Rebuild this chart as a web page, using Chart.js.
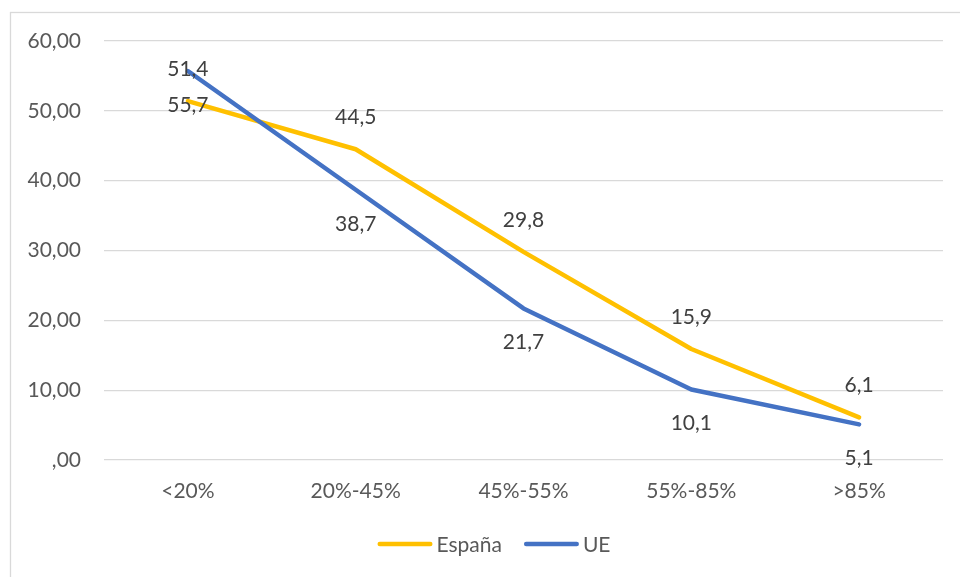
<!DOCTYPE html>
<html lang="es">
<head>
<meta charset="utf-8">
<title>España vs UE</title>
<script src="https://cdn.jsdelivr.net/npm/chart.js@4/dist/chart.umd.min.js"></script>
<style>
  html, body { margin: 0; padding: 0; background: #ffffff; }
  #wrap { width: 960px; height: 577px; }
</style>
</head>
<body>
<div id="wrap"><canvas id="chart" width="960" height="577"></canvas></div>
<script>
// Categories and series values
const categories = ['<20%', '20%-45%', '45%-55%', '55%-85%', '>85%'];
const espana = [51.4, 44.5, 29.8, 15.9, 6.1];
const ue = [55.7, 38.7, 21.7, 10.1, 5.1];
const yTicks = [0, 10, 20, 30, 40, 50, 60];

const FONT = 'Lato, "Open Sans", sans-serif';

function fmtTick(v) {
  if (v === 0) return ',00';
  return v.toFixed(2).replace('.', ',');
}
function fmtLabel(v) {
  return v.toFixed(1).replace('.', ',');
}

// Light frame around the whole chart
const framePlugin = {
  id: 'frame',
  beforeDraw(chart) {
    const ctx = chart.ctx;
    ctx.save();
    ctx.fillStyle = '#ffffff';
    ctx.fillRect(0, 0, chart.width, chart.height);
    ctx.strokeStyle = '#d9d9d9';
    ctx.lineWidth = 1.3;
    ctx.strokeRect(10.5, 12.5, 1000, 1000);
    ctx.restore();
  }
};

// Value labels: each dataset places its labels above or below its points
const valueLabels = {
  id: 'valueLabels',
  afterDatasetsDraw(chart) {
    const ctx = chart.ctx;
    ctx.save();
    ctx.font = '21px ' + FONT;
    ctx.fillStyle = '#404040';
    ctx.textAlign = 'center';
    ctx.textBaseline = 'middle';
    chart.data.datasets.forEach((ds, i) => {
      const meta = chart.getDatasetMeta(i);
      meta.data.forEach((pt, j) => {
        ctx.fillText(fmtLabel(ds.data[j]), pt.x, pt.y + ds.labelOffset);
      });
    });
    ctx.restore();
  }
};

// Legend row under the axis: line sample followed by the series name
const lineLegend = {
  id: 'lineLegend',
  afterDraw(chart, args, opts) {
    const ctx = chart.ctx;
    const sample = opts.sampleWidth, gap = opts.textGap, spacing = opts.itemGap;
    ctx.save();
    ctx.font = opts.fontSize + 'px ' + FONT;
    ctx.textBaseline = 'middle';
    ctx.textAlign = 'left';
    const items = chart.data.datasets.map(ds => ({
      text: ds.label, color: ds.borderColor, width: ds.borderWidth,
      tw: ctx.measureText(ds.label).width
    }));
    let total = 0;
    items.forEach((it, i) => { total += sample + gap + it.tw + (i ? spacing : 0); });
    let x = opts.centerX - total / 2;
    const y = chart.chartArea.bottom + opts.offsetY;
    items.forEach((it, i) => {
      if (i) x += spacing;
      ctx.strokeStyle = it.color;
      ctx.lineWidth = it.width;
      ctx.lineCap = 'round';
      ctx.beginPath();
      ctx.moveTo(x + it.width / 2, y);
      ctx.lineTo(x + sample - it.width / 2, y);
      ctx.stroke();
      ctx.fillStyle = '#595959';
      ctx.fillText(it.text, x + sample + gap, y + 1);
      x += sample + gap + it.tw;
    });
    ctx.restore();
  }
};

new Chart(document.getElementById('chart'), {
  type: 'line',
  data: {
    labels: categories,
    datasets: [
      {
        label: 'España',
        data: espana,
        borderColor: '#FFC000',
        backgroundColor: '#FFC000',
        borderWidth: 4.5,
        borderCapStyle: 'round',
        borderJoinStyle: 'round',
        pointRadius: 0,
        tension: 0,
        order: 1,
        labelOffset: -32
      },
      {
        label: 'UE',
        data: ue,
        borderColor: '#4472C4',
        backgroundColor: '#4472C4',
        borderWidth: 4.5,
        borderCapStyle: 'round',
        borderJoinStyle: 'round',
        pointRadius: 0,
        tension: 0,
        order: 0,
        labelOffset: 34
      }
    ]
  },
  options: {
    responsive: false,
    animation: false,
    devicePixelRatio: 1,
    layout: { padding: { left: 0, right: 17, top: 41, bottom: 63 } },
    plugins: {
      tooltip: { enabled: false },
      legend: { display: false },
      lineLegend: { sampleWidth: 55, textGap: 4, itemGap: 22, centerX: 494, offsetY: 84, fontSize: 21 }
    },
    scales: {
      x: {
        offset: true,
        grid: { display: false, drawTicks: false },
        border: { display: false },
        ticks: {
          padding: 19,
          color: '#595959',
          font: { family: FONT, size: 21 }
        },
        afterFit(scale) { scale.height = 54; }
      },
      y: {
        min: 0,
        max: 60,
        afterBuildTicks(scale) { scale.ticks = yTicks.map(v => ({ value: v })); },
        grid: { color: '#d9d9d9', lineWidth: 1.3, drawTicks: false },
        border: { display: false },
        ticks: {
          padding: 23,
          color: '#595959',
          font: { family: FONT, size: 21 },
          callback: (v) => fmtTick(v)
        },
        afterFit(scale) { scale.width = 104; }
      }
    }
  },
  plugins: [framePlugin, valueLabels, lineLegend]
});
</script>
</body>
</html>
